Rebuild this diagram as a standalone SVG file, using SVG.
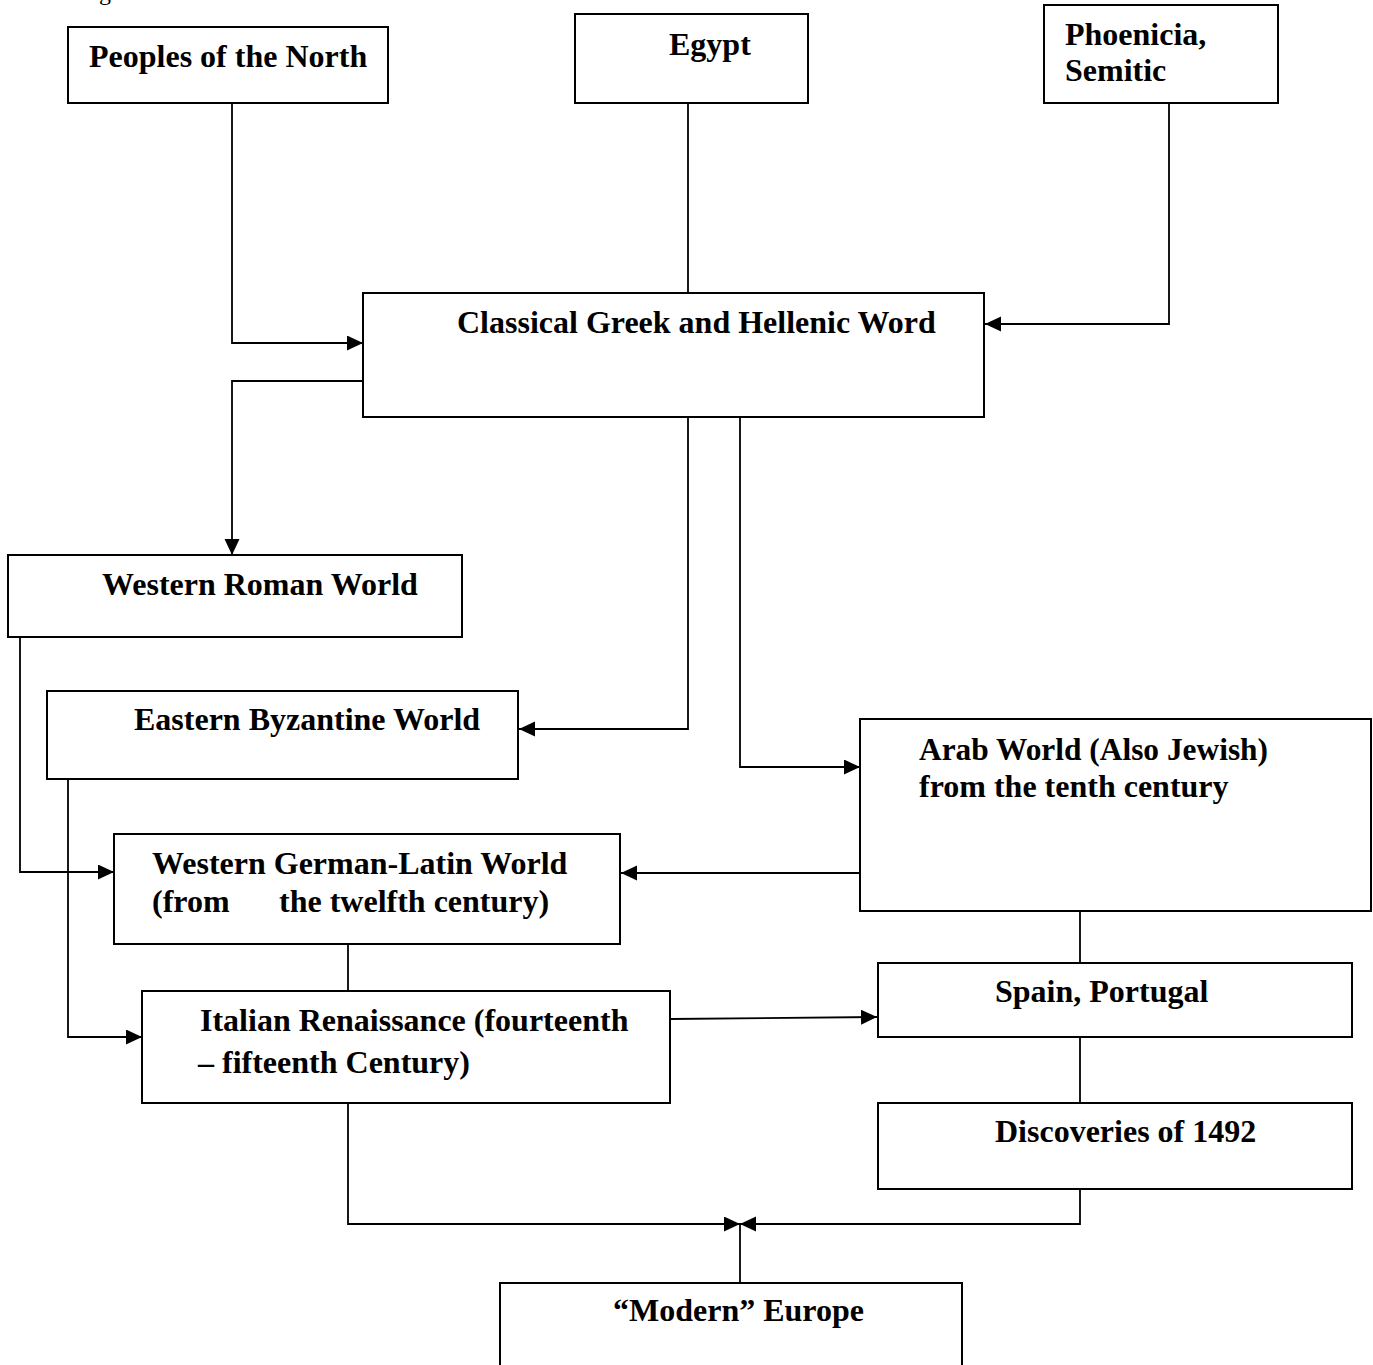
<svg xmlns="http://www.w3.org/2000/svg" width="1373" height="1365" viewBox="0 0 1373 1365">
<style>
.box{fill:#fff;stroke:#000;stroke-width:2}
.t{font-family:"Liberation Serif","Times New Roman",serif;font-weight:bold;font-size:32px;fill:#000}
.c{fill:none;stroke:#000;stroke-width:1.8}
.a{marker-end:url(#arr)}
</style>
<defs>
<marker id="arr" markerUnits="userSpaceOnUse" markerWidth="17" markerHeight="16" refX="16" refY="7.5" orient="auto">
<path d="M0,0 L16,7.5 L0,15 z" fill="#000"/>
</marker>
</defs>
<rect width="1373" height="1365" fill="#fff"/>
<text x="99" y="0" style="font-family:'Liberation Serif',serif;font-size:24px">g</text>
<g id="connectors">
<path class="c a" d="M232,103 V343 H363"/>
<path class="c" d="M688,103 V293"/>
<path class="c a" d="M1169,103 V324 H985"/>
<path class="c a" d="M363,381 H232 V555"/>
<path class="c a" d="M688,417 V729 H519"/>
<path class="c a" d="M740,417 V767 H860"/>
<path class="c a" d="M20,637 V872 H114"/>
<path class="c a" d="M68,779 V1037 H142"/>
<path class="c a" d="M860,873 H621"/>
<path class="c" d="M348,944 V991"/>
<path class="c" d="M1080,911 V963"/>
<path class="c a" d="M670,1019 L877,1017"/>
<path class="c" d="M1080,1037 V1103"/>
<path class="c a" d="M348,1103 V1224 H740"/>
<path class="c a" d="M1080,1189 V1224 H740"/>
<path class="c" d="M740,1283 V1224"/>
</g>
<g id="peoples"><rect class="box" x="68" y="27" width="320" height="76"/><text class="t" x="89" y="67">Peoples of the North</text></g>
<g id="egypt"><rect class="box" x="575" y="14" width="233" height="89"/><text class="t" x="669" y="55">Egypt</text></g>
<g id="phoenicia"><rect class="box" x="1044" y="5" width="234" height="98"/><text class="t" x="1065" y="45">Phoenicia,</text><text class="t" x="1065" y="81">Semitic</text></g>
<g id="classical"><rect class="box" x="363" y="293" width="621" height="124"/><text class="t" x="457" y="333">Classical Greek and Hellenic Word</text></g>
<g id="western-roman"><rect class="box" x="8" y="555" width="454" height="82"/><text class="t" x="102" y="595">Western Roman World</text></g>
<g id="byzantine"><rect class="box" x="47" y="691" width="471" height="88"/><text class="t" x="134" y="730">Eastern Byzantine World</text></g>
<g id="arab"><rect class="box" x="860" y="719" width="511" height="192"/><text class="t" x="919" y="760" textLength="349" lengthAdjust="spacingAndGlyphs">Arab World (Also Jewish)</text><text class="t" x="919" y="797">from the tenth century</text></g>
<g id="german-latin"><rect class="box" x="114" y="834" width="506" height="110"/><text class="t" x="152" y="874">Western German-Latin World</text><text class="t" y="912"><tspan x="152">(from</tspan><tspan x="279">the twelfth century)</tspan></text></g>
<g id="italian"><rect class="box" x="142" y="991" width="528" height="112"/><text class="t" x="200" y="1031">Italian Renaissance (fourteenth</text><text class="t" x="198" y="1073">– fifteenth Century)</text></g>
<g id="spain"><rect class="box" x="878" y="963" width="474" height="74"/><text class="t" x="995" y="1002">Spain, Portugal</text></g>
<g id="discoveries"><rect class="box" x="878" y="1103" width="474" height="86"/><text class="t" x="995" y="1142">Discoveries of 1492</text></g>
<g id="modern"><rect class="box" x="500" y="1283" width="462" height="100"/><text class="t" x="613" y="1321">“Modern” Europe</text></g>
</svg>
